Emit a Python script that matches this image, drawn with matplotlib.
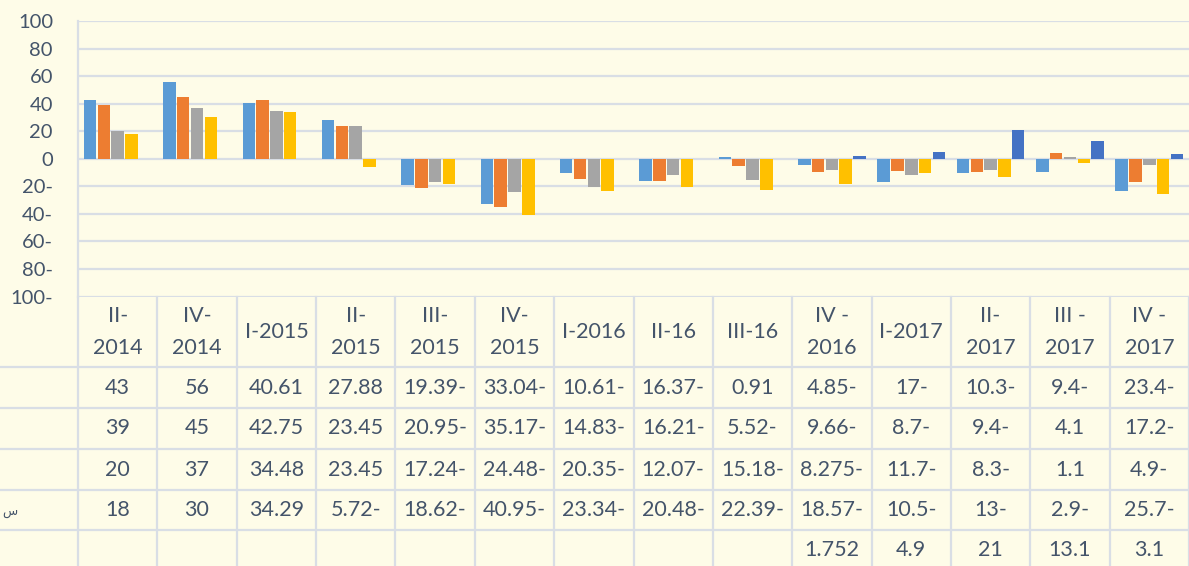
import numpy as np
import matplotlib.pyplot as plt

quarters = ["II-\n2014", "IV-\n2014", "I-2015", "II-\n2015", "III-\n2015", "IV-\n2015",
            "I-2016", "II-16", "III-16", "IV -\n2016", "I-2017", "II-\n2017", "III -\n2017", "IV -\n2017"]

series1 = [43, 56, 40.61, 27.88, -19.39, -33.04, -10.61, -16.37, 0.91, -4.85, -17, -10.3, -9.4, -23.4]
series2 = [39, 45, 42.75, 23.45, -20.95, -35.17, -14.83, -16.21, -5.52, -9.66, -8.7, -9.4, 4.1, -17.2]
series3 = [20, 37, 34.48, 23.45, -17.24, -24.48, -20.35, -12.07, -15.18, -8.275, -11.7, -8.3, 1.1, -4.9]
series4 = [18, 30, 34.29, -5.72, -18.62, -40.95, -23.34, -20.48, -22.39, -18.57, -10.5, -13, -2.9, -25.7]
series5 = [None] * 9 + [1.752, 4.9, 21, 13.1, 3.1]

all_series = [series1, series2, series3, series4, series5]
colors = ["#5B9BD5", "#ED7D31", "#A5A5A5", "#FFC000", "#4472C4"]

yticks = [-100, -80, -60, -40, -20, 0, 20, 40, 60, 80, 100]

BG = "#FEFCE8"
GRID = "#D9DEE5"
TXT = "#44546A"
FONT = ["Lato", "DejaVu Sans"]

plt.rcParams['font.family'] = FONT

W, H = 1189, 566
fig = plt.figure(figsize=(W / 100, H / 100), dpi=100, facecolor=BG)

top_px, bot_px, left_px = 21, 296.5, 78
ax = fig.add_axes([left_px / W, (H - bot_px) / H, (W - left_px) / W, (bot_px - top_px) / H])
ax.set_facecolor(BG)

n = len(quarters)
x = np.arange(n)
slot = 0.174
bw = 0.158
for j, (vals, c) in enumerate(zip(all_series, colors)):
    xs = [xi + (j - 2) * slot for xi, v in zip(x, vals) if v is not None]
    vs = [v for v in vals if v is not None]
    ax.bar(xs, vs, width=bw, color=c, zorder=3)

ax.set_xlim(-0.5, n - 0.5)
ax.set_ylim(-100, 100)
ax.set_yticks(yticks)
ax.set_yticklabels([f"{abs(t)}-" if t < 0 else str(t) for t in yticks])
ax.tick_params(axis='y', length=0, pad=18, labelsize=14.5, labelcolor=TXT)
ax.set_xticks([])
ax.grid(axis='y', color=GRID, linewidth=1.6, zorder=0)
for s in ["top", "right", "bottom"]:
    ax.spines[s].set_visible(False)
ax.spines["left"].set_color(GRID)
ax.spines["left"].set_linewidth(1.6)

# data table under the chart
tab = fig.add_axes([left_px / W, 0, (W - left_px) / W, (H - bot_px) / H])
tab.set_facecolor(BG)
tab.set_xlim(-0.5, n - 0.5)
tab.set_ylim(H, bot_px)
tab.axis("off")

col_w = (W - left_px) / n
x_left = -0.5 - left_px / col_w
rows = [bot_px, 367, 408, 449, 490, 530, 572]

for r in rows[1:-1]:
    tab.plot([x_left, n - 0.5], [r, r], color=GRID, linewidth=1.6, clip_on=False)
for k in range(n + 1):
    tab.plot([k - 0.5, k - 0.5], [bot_px, H], color=GRID, linewidth=1.6, clip_on=False)

hy = (rows[0] + rows[1]) / 2
for i, q in enumerate(quarters):
    tab.text(i, hy, q, ha="center", va="center", fontsize=15.5, color=TXT, linespacing=1.75)

for j, vals in enumerate(all_series):
    ry = (rows[j + 1] + rows[j + 2]) / 2
    if j == 4:
        ry = (rows[5] + 566) / 2 + 2
    for i, v in enumerate(vals):
        if v is None:
            continue
        s = f"{abs(v):g}" + ("-" if v < 0 else "")
        tab.text(i, ry, s, ha="center", va="center", fontsize=15.5, color=TXT)

tab.text(x_left + 0.03, (rows[4] + rows[5]) / 2 + 2, "س", ha="left", va="center",
         fontsize=9, color=TXT, family=["DejaVu Sans"], clip_on=False)

fig.savefig("out.png", dpi=100, facecolor=BG)
